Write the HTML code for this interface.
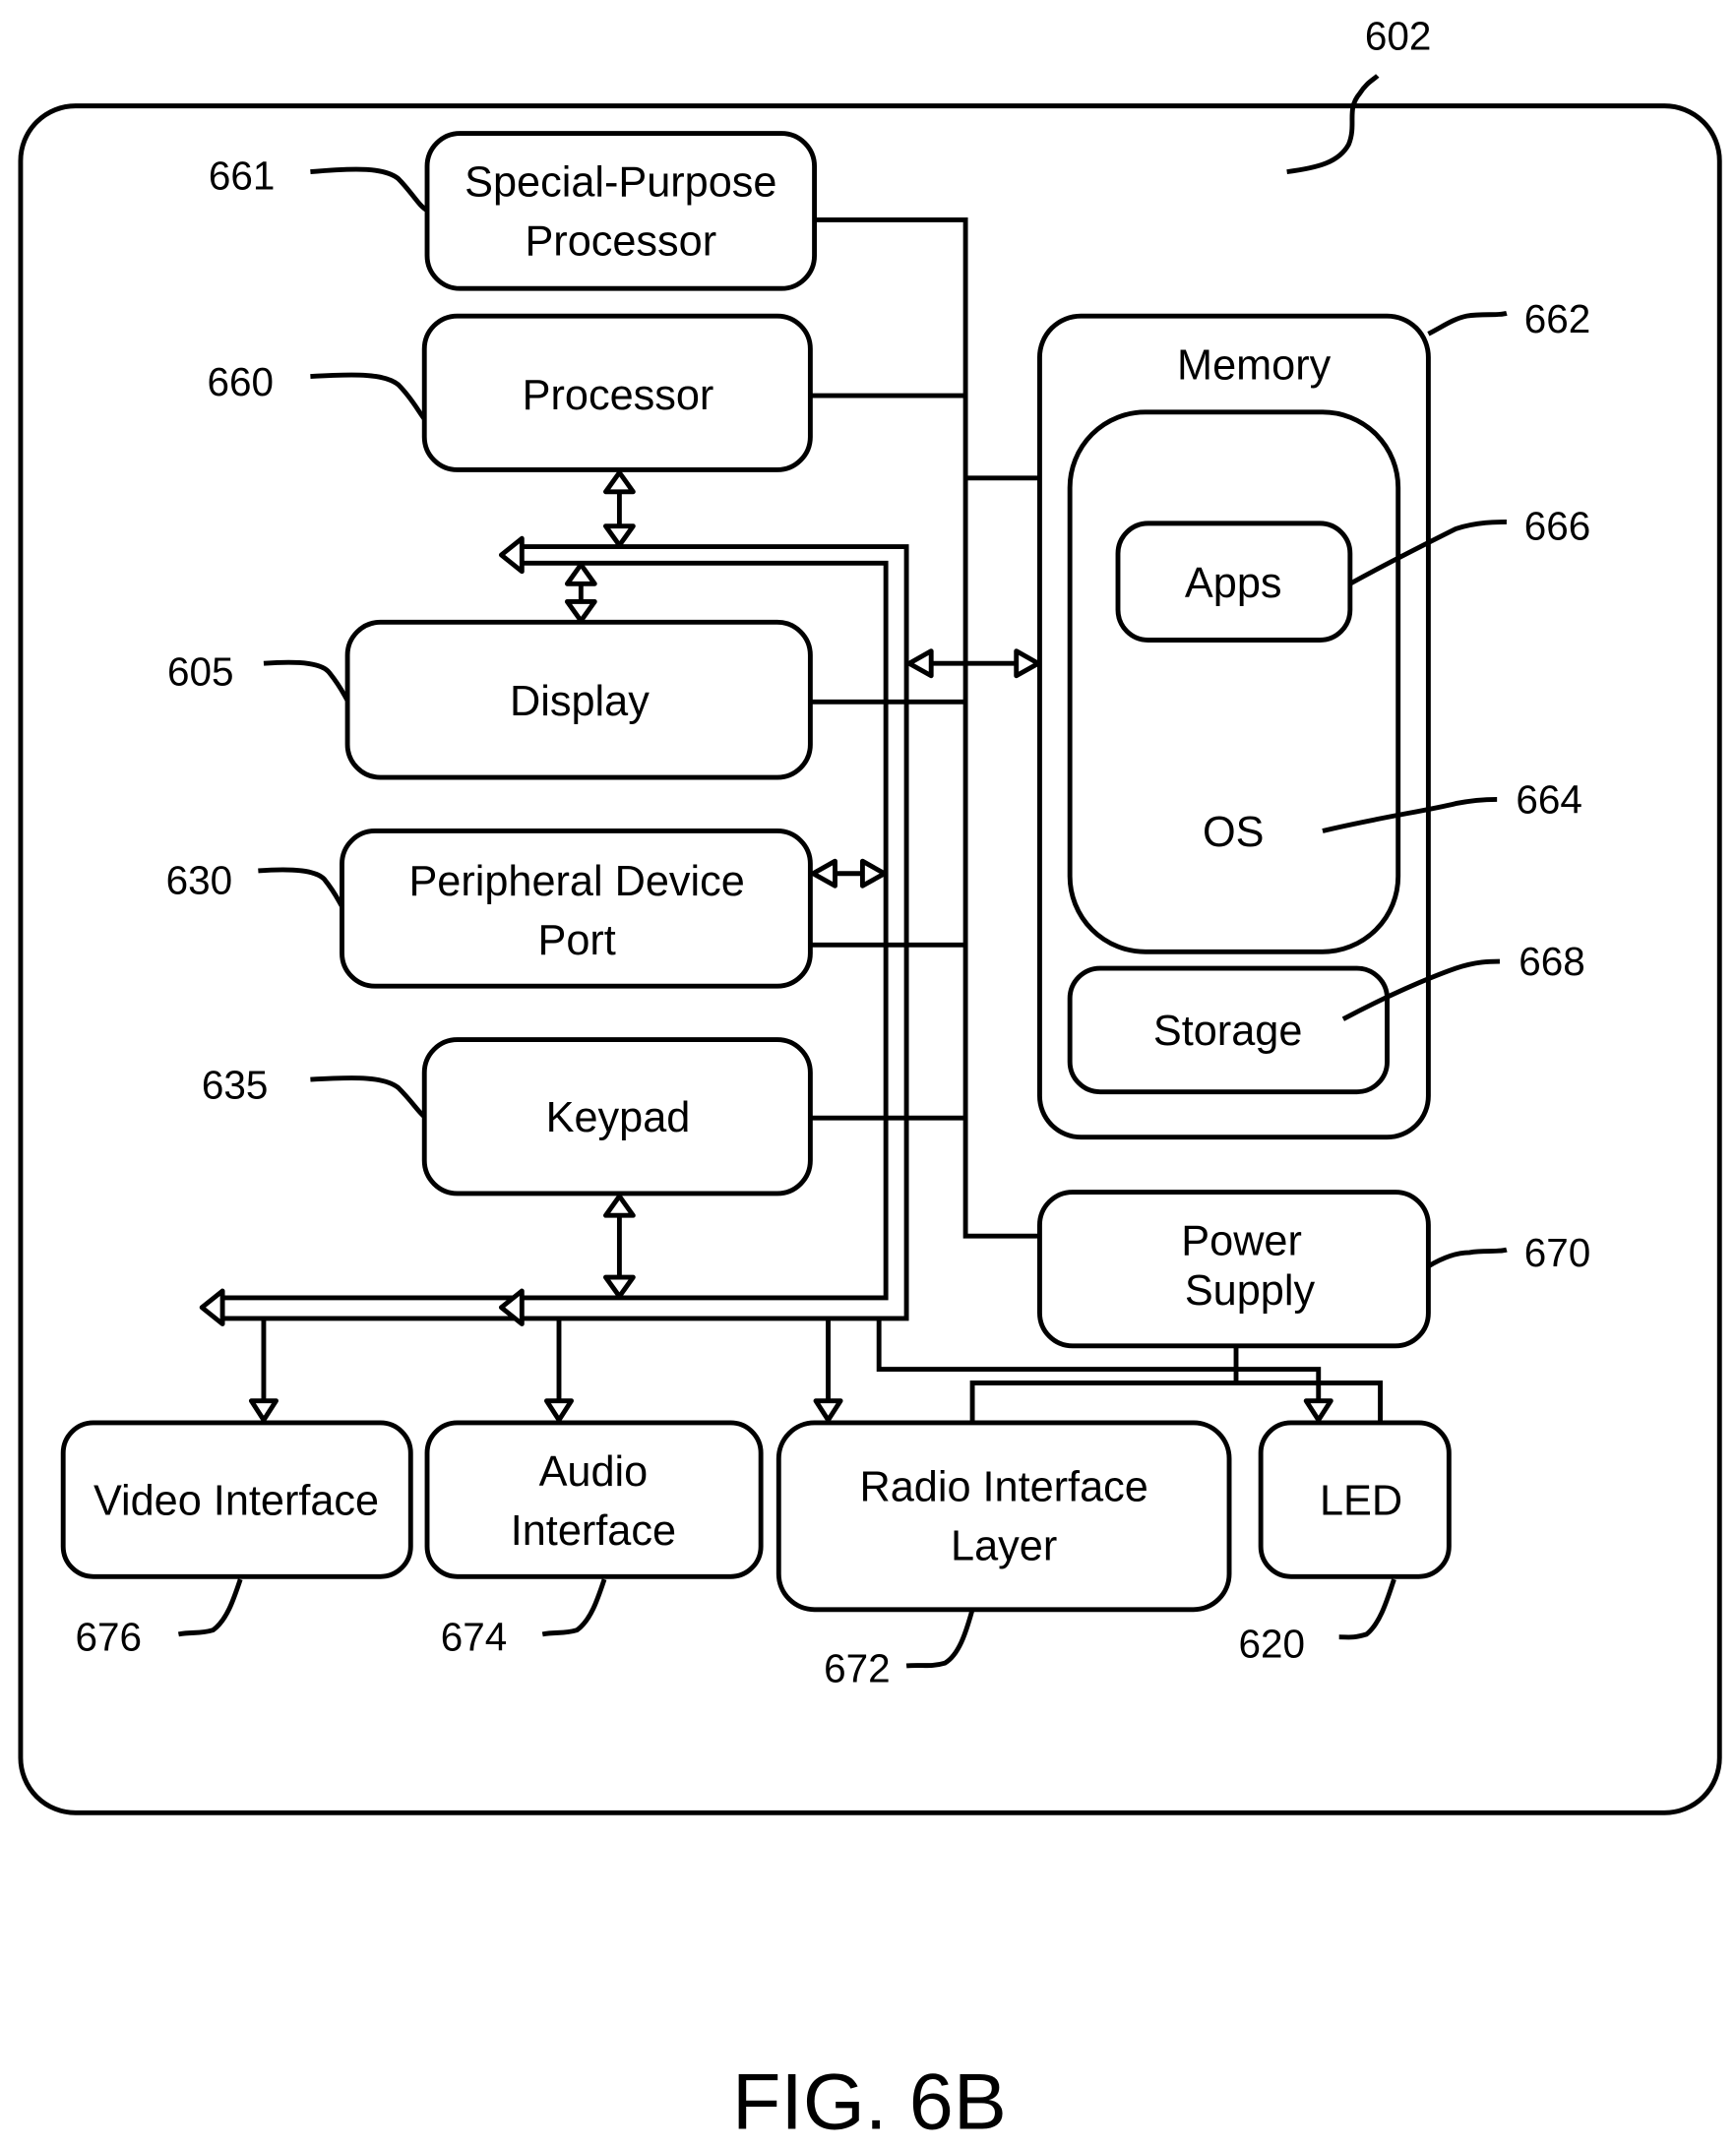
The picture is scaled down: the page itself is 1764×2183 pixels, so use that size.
<!DOCTYPE html>
<html><head><meta charset="utf-8"><style>
html,body{margin:0;padding:0;background:#fff;}
svg{display:block;}
text{font-family:"Liberation Sans",sans-serif;fill:#000;}
</style></head><body>
<svg width="1764" height="2183" viewBox="0 0 1264 1564" xmlns="http://www.w3.org/2000/svg">
<g fill="none" stroke="#000" stroke-width="3.5">
<rect x="15" y="77" width="1237" height="1243" rx="40"/>
<rect x="311" y="97" width="282" height="113" rx="24"/>
<rect x="309" y="230" width="281" height="112" rx="24"/>
<rect x="253" y="453" width="337" height="113" rx="24"/>
<rect x="249" y="605" width="341" height="113" rx="24"/>
<rect x="309" y="757" width="281" height="112" rx="24"/>
<rect x="757" y="230" width="283" height="598" rx="30"/>
<rect x="779" y="300" width="239" height="393" rx="55"/>
<rect x="814" y="381" width="169" height="85" rx="22"/>
<rect x="779" y="705" width="231" height="90" rx="22"/>
<rect x="757" y="868" width="283" height="112" rx="24"/>
<rect x="46" y="1036" width="253" height="112" rx="22"/>
<rect x="311" y="1036" width="243" height="112" rx="22"/>
<rect x="567" y="1036" width="328" height="136" rx="26"/>
<rect x="918" y="1036" width="137" height="112" rx="22"/>
<polyline points="592,160 703,160 703,900 757,900"/>
<line x1="590" y1="288" x2="703" y2="288"/>
<line x1="590" y1="511" x2="703" y2="511"/>
<line x1="590" y1="688" x2="703" y2="688"/>
<line x1="590" y1="814" x2="703" y2="814"/>
<line x1="703" y1="348" x2="757" y2="348"/>
<polyline points="900,980 900,1007"/>
<polyline points="708,1035 708,1007 1005,1007 1005,1035"/>
<polyline points="640,960 640,997 960,997 960,1022"/>
<polyline points="378,398 660,398 660,960 378,960"/>
<polyline points="378,410 645,410 645,945 378,945"/>
<polyline points="378,945 160,945"/>
<polyline points="378,960 160,960"/>
<line x1="192" y1="960" x2="192" y2="1022"/>
<line x1="407" y1="960" x2="407" y2="1022"/>
<line x1="603" y1="960" x2="603" y2="1022"/>
<line x1="451" y1="356" x2="451" y2="384"/>
<line x1="423" y1="422" x2="423" y2="440"/>
<line x1="451" y1="883" x2="451" y2="931"/>
<line x1="676" y1="483" x2="742" y2="483"/>
<line x1="606" y1="636" x2="630" y2="636"/>
<path d="M226,125 C260,122 280,122 290,130 C300,140 305,150 311,153"/>
<path d="M226,274 C260,272 280,272 290,280 C300,290 305,300 309,305"/>
<path d="M192,483 C220,481 235,483 240,490 C248,500 250,505 253,510"/>
<path d="M188,634 C215,632 230,634 236,640 C244,650 246,655 249,660"/>
<path d="M226,786 C260,784 280,784 290,792 C300,802 305,810 309,813"/>
<path d="M937,125 C960,122 975,118 982,105 C988,90 980,80 990,68 C995,60 1000,58 1003,55"/>
<path d="M1040,243 C1050,238 1058,232 1068,230 C1080,228 1090,230 1097,228"/>
<path d="M983,425 C1010,410 1040,395 1060,385 C1075,380 1090,380 1097,380"/>
<path d="M963,605 C1000,596 1040,590 1060,585 C1075,582 1085,582 1090,582"/>
<path d="M978,742 C1010,725 1040,712 1060,705 C1075,700 1085,700 1092,700"/>
<path d="M1040,922 C1050,916 1060,912 1070,912 C1080,910 1090,912 1097,910"/>
<path d="M175,1150 C170,1165 165,1180 155,1187 C145,1190 140,1188 130,1190"/>
<path d="M440,1150 C435,1165 430,1180 420,1187 C410,1190 405,1188 395,1190"/>
<path d="M708,1172 C703,1190 698,1205 688,1211 C678,1214 670,1212 660,1213"/>
<path d="M1015,1150 C1010,1165 1005,1182 995,1190 C985,1193 982,1192 975,1192"/>
</g>
<g fill="#fff" stroke="#000" stroke-width="3.5" stroke-linejoin="round">
<polygon points="365,404 380,392 380,416"/>
<polygon points="147,952 162,940 162,964"/>
<polygon points="365,952 380,940 380,964"/>
<polygon points="451,344 441,358 461,358"/>
<polygon points="451,397 441,383 461,383"/>
<polygon points="423,411 413,425 433,425"/>
<polygon points="423,452 413,438 433,438"/>
<polygon points="451,871 441,885 461,885"/>
<polygon points="451,944 441,930 461,930"/>
<polygon points="662,483 678,474 678,492"/>
<polygon points="756,483 740,474 740,492"/>
<polygon points="592,636 608,627 608,645"/>
<polygon points="644,636 628,627 628,645"/>
<polygon points="192,1034 183,1020 201,1020"/>
<polygon points="407,1034 398,1020 416,1020"/>
<polygon points="603,1034 594,1020 612,1020"/>
<polygon points="960,1034 951,1020 969,1020"/>
</g>
<g font-size="31" text-anchor="middle">
<text x="452" y="143">Special-Purpose</text>
<text x="452" y="186">Processor</text>
<text x="450" y="298">Processor</text>
<text x="422" y="521">Display</text>
<text x="420" y="652">Peripheral Device</text>
<text x="420" y="695">Port</text>
<text x="450" y="824">Keypad</text>
<text x="913" y="276">Memory</text>
<text x="898" y="435">Apps</text>
<text x="898" y="616">OS</text>
<text x="894" y="761">Storage</text>
<text x="904" y="914">Power</text>
<text x="910" y="950">Supply</text>
<text x="172" y="1103">Video Interface</text>
<text x="432" y="1082">Audio</text>
<text x="432" y="1125">Interface</text>
<text x="731" y="1093">Radio Interface</text>
<text x="731" y="1136">Layer</text>
<text x="991" y="1103">LED</text>
</g>
<g font-size="29" text-anchor="middle">
<text x="1018" y="36">602</text>
<text x="176" y="138">661</text>
<text x="175" y="288">660</text>
<text x="146" y="499">605</text>
<text x="145" y="651">630</text>
<text x="171" y="800">635</text>
<text x="1134" y="242">662</text>
<text x="1134" y="393">666</text>
<text x="1128" y="592">664</text>
<text x="1130" y="710">668</text>
<text x="1134" y="922">670</text>
<text x="79" y="1202">676</text>
<text x="345" y="1202">674</text>
<text x="624" y="1225">672</text>
<text x="926" y="1207">620</text>
</g>
<text x="633" y="1550" font-size="58" text-anchor="middle">FIG. 6B</text>
</svg>
</body></html>
